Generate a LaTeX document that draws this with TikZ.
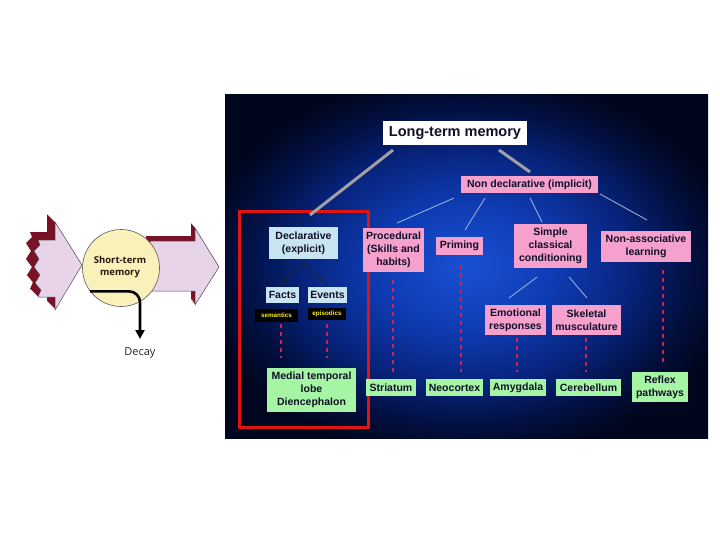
\documentclass[tikz,border=0pt]{standalone}
\usepackage{fontspec}
\setmainfont{Liberation Sans}
\newfontfamily\osans{Open Sans}
\usetikzlibrary{arrows.meta}
\definecolor{glowA}{RGB}{25,80,210}
\definecolor{glowB}{RGB}{15,60,180}
\definecolor{glowC}{RGB}{7,36,125}
\definecolor{glowD}{RGB}{2,16,66}
\definecolor{glowE}{RGB}{0,6,30}
\definecolor{pinkc}{RGB}{245,160,205}
\definecolor{greenc}{RGB}{165,245,165}
\definecolor{bluec}{RGB}{200,230,242}
\definecolor{boxtext}{RGB}{15,15,40}
\definecolor{tagyellow}{RGB}{250,240,40}
\definecolor{dashred}{RGB}{205,35,80}
\definecolor{branchblue}{RGB}{150,175,215}
\definecolor{grayline}{RGB}{160,160,165}
\definecolor{framered}{RGB}{225,20,20}
\definecolor{arrowpink}{RGB}{232,212,232}
\definecolor{arrowdark}{RGB}{120,18,38}
\definecolor{stmfill}{RGB}{250,240,185}
\pgfdeclareradialshading{panelglow}{\pgfpoint{0bp}{0bp}}{color(0bp)=(glowA); color(9bp)=(glowB); color(17bp)=(glowC); color(23bp)=(glowD); color(28bp)=(glowE); color(50bp)=(glowE)}
\begin{document}
\begin{tikzpicture}[x=1pt,y=-1pt,
  box/.style={draw=none, inner sep=0pt, align=center, text=boxtext,
    font=\fontsize{10.5}{13}\selectfont\bfseries},
  pinkbox/.style={box, fill=pinkc},
  greenbox/.style={box, fill=greenc},
  bluebox/.style={box, fill=bluec},
  tagbox/.style={box, fill=black, text=tagyellow, font=\fontsize{6.3}{7}\selectfont\bfseries},
  trunk/.style={draw=grayline, line width=3pt},
  branch/.style={draw=branchblue, line width=0.9pt},
  darkbranch/.style={draw=black!85, line width=0.8pt},
  dashlink/.style={draw=dashred, line width=1.2pt, dash pattern=on 4pt off 4pt},
  arrowbody/.style={fill=arrowpink, draw=black!70, line width=0.5pt}]
\useasboundingbox (0,0) rectangle (720,540);
\fill[white] (0,0) rectangle (720,540);

% ---------- left part ----------
\foreach \d in {1,2,...,8}{
\begin{scope}[shift={(-\d,-\d)}]
\fill[arrowdark] (38,240) -- (55,240) -- (55,222) -- (82,265) -- (55,310) -- (55,297) -- (38,297)
  -- (41,290) -- (35,283) -- (40,275) -- (34,267) -- (39,259) -- (34,251) -- (40,245) -- cycle;
\end{scope}}
\filldraw[arrowbody] (38,240) -- (55,240) -- (55,222) -- (82,265) -- (55,310) -- (55,297) -- (38,297)
  -- (41,290) -- (35,283) -- (40,275) -- (34,267) -- (39,259) -- (34,251) -- (40,245) -- cycle;
\foreach \d in {1,2,...,5}{
\begin{scope}[shift={(-\d*0.8,-\d)}]
\fill[arrowdark] (150,241) -- (195,241) -- (195,228) -- (219,267) -- (195,305) -- (195,291) -- (150,291) -- cycle;
\end{scope}}
\filldraw[arrowbody] (150,241) -- (195,241) -- (195,228) -- (219,267) -- (195,305) -- (195,291) -- (150,291) -- cycle;

\node[circle, minimum size=77pt, inner sep=0pt, fill=stmfill, draw=black!65, line width=0.6pt] (stm) at (121,268) {};
\node[font=\osans\bfseries\fontsize{9.5}{11.5}\selectfont, text=black!80!brown, align=center] (stmtext) at (120,267) {Short-term\\memory};
\coordinate (dk) at (140,339);
\draw[line width=2.6pt, rounded corners=11pt, -{Triangle[length=9pt,width=9pt]}] (stm.217) -| (dk);
\node[font=\osans\fontsize{11}{13}\selectfont, text=black!85] (decay) at (140,353) {Decay};

% ---------- panel ----------
\shade[shading=panelglow] (225,95) rectangle (708,438);

% red frame (under the boxes)
\draw[framered, line width=3pt] (239.5,211.5) rectangle (368,427);

% nodes
\node[box, fill=white, minimum width=144pt, minimum height=24pt, font=\fontsize{14.5}{16}\selectfont\bfseries] (ltm) at (455,133) {Long-term memory};
\node[pinkbox, minimum width=137pt, minimum height=17pt] (nondecl) at (529.5,184.5) {Non declarative (implicit)};

\node[bluebox, minimum width=69pt, minimum height=32pt] (decl) at (303.5,243) {Declarative\\(explicit)};
\node[bluebox, minimum width=33pt, minimum height=16pt] (facts) at (282.5,295) {Facts};
\node[bluebox, minimum width=39pt, minimum height=16pt] (events) at (327.5,295) {Events};
\node[tagbox, minimum width=43pt, minimum height=13pt] (sem) at (276.5,315) {semantics};
\node[tagbox, minimum width=38pt, minimum height=12pt] (epi) at (327,314) {episodics};
\node[greenbox, minimum width=89pt, minimum height=44pt] (mtl) at (311.5,390) {Medial temporal\\lobe\\Diencephalon};

\node[pinkbox, minimum width=61pt, minimum height=44pt] (proc) at (393.5,250) {Procedural\\(Skills and\\habits)};
\node[greenbox, minimum width=50pt, minimum height=17pt] (stri) at (391,387.5) {Striatum};
\node[pinkbox, minimum width=47pt, minimum height=18pt] (prim) at (459.5,246) {Priming};
\node[greenbox, minimum width=57pt, minimum height=17pt] (neo) at (454.5,387.5) {Neocortex};
\node[pinkbox, minimum width=73pt, minimum height=44pt] (simple) at (550.5,246) {Simple\\classical\\conditioning};
\node[pinkbox, minimum width=61pt, minimum height=30pt] (emot) at (515.5,320) {Emotional\\responses};
\node[pinkbox, minimum width=69pt, minimum height=30pt] (skel) at (586.5,320) {Skeletal\\musculature};
\node[greenbox, minimum width=56pt, minimum height=17pt] (amyg) at (518,387.5) {Amygdala};
\node[greenbox, minimum width=65pt, minimum height=17pt] (cereb) at (588.5,387.5) {Cerebellum};
\node[pinkbox, minimum width=90pt, minimum height=31pt] (nonassoc) at (646,246.5) {Non-associative\\learning};
\node[greenbox, minimum width=56pt, minimum height=30pt] (reflex) at (660,387) {Reflex\\pathways};

% trunk lines
\coordinate (t1a) at (393,150); \coordinate (t1b) at (310,215);
\coordinate (t2a) at (499,150); \coordinate (t2b) at (530,172);
\draw[trunk] (t1a) -- (t1b);
\draw[trunk] (t2a) -- (t2b);

% branches from non declarative
\coordinate (b1a) at (454,198); \coordinate (b1b) at (397,223);
\coordinate (b2a) at (485,198); \coordinate (b2b) at (465,230);
\coordinate (b3a) at (530,198); \coordinate (b3b) at (542,222);
\coordinate (b4a) at (600,194); \coordinate (b4b) at (647,220);
\draw[branch] (b1a) -- (b1b);
\draw[branch] (b2a) -- (b2b);
\draw[branch] (b3a) -- (b3b);
\draw[branch] (b4a) -- (b4b);
\coordinate (s1a) at (537,277); \coordinate (s1b) at (509,298);
\coordinate (s2a) at (569,277); \coordinate (s2b) at (587,298);
\draw[branch] (s1a) -- (s1b);
\draw[branch] (s2a) -- (s2b);

% declarative branches
\coordinate (d0) at (303,263); \coordinate (d1) at (280,285); \coordinate (d2) at (328,285);
\draw[darkbranch] (d0) -- (d1);
\draw[darkbranch] (d0) -- (d2);

% dashed links
\draw[dashlink] (281,324) -- (281,358);
\draw[dashlink] (327,324) -- (327,358);
\draw[dashlink] (393,280) -- (393,372);
\draw[dashlink] (461,265) -- (461,372);
\draw[dashlink] (517,338) -- (517,372);
\draw[dashlink] (586,338) -- (586,372);
\draw[dashlink] (663,270) -- (663,362);
\end{tikzpicture}
\end{document}
